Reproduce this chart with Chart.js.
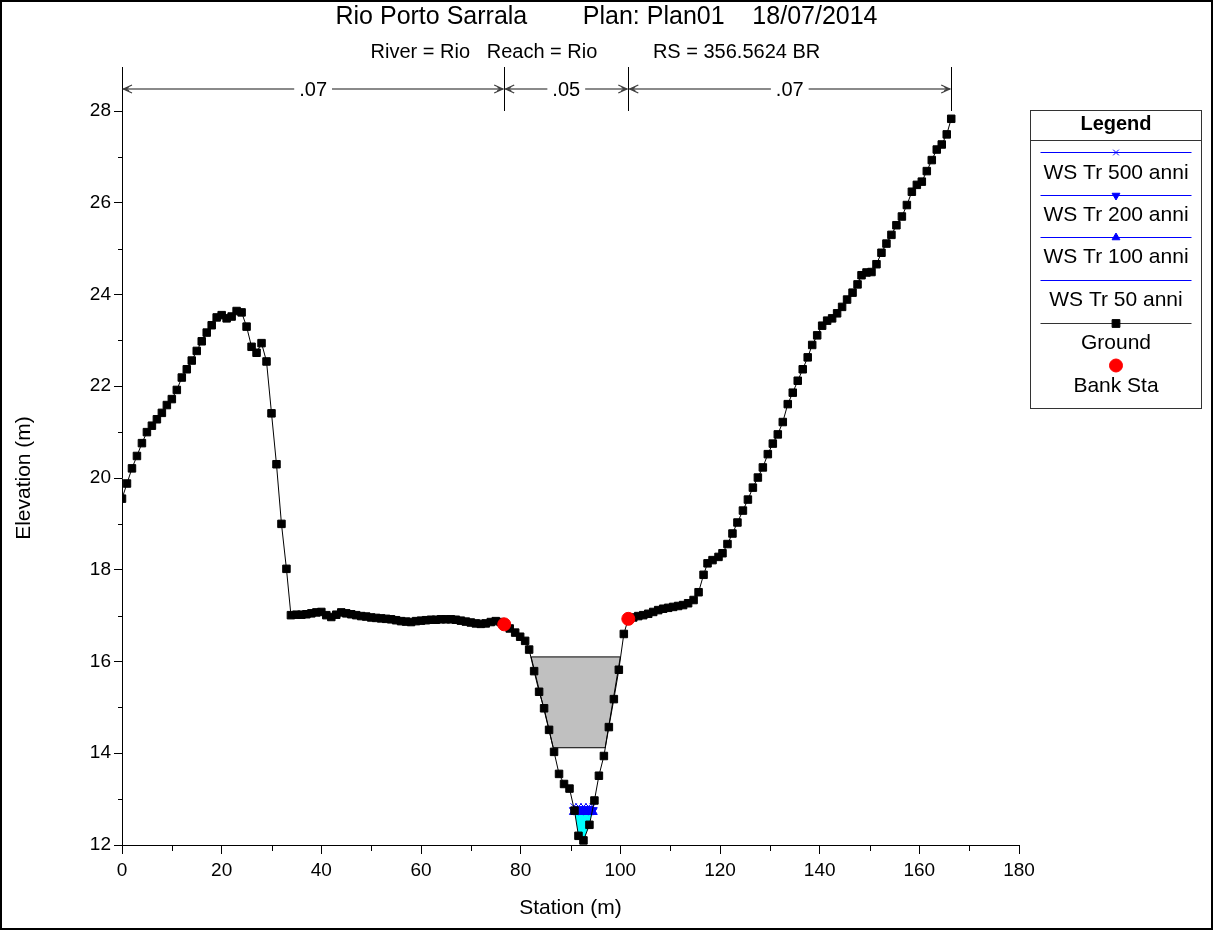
<!DOCTYPE html>
<html>
<head>
<meta charset="utf-8">
<title>Rio Porto Sarrala</title>
<script src="https://cdn.jsdelivr.net/npm/chart.js@4.4.1/dist/chart.umd.min.js"></script>
<style>
  body { margin: 0; background: #fff; }
  canvas { display: block; }
</style>
</head>
<body>
<canvas id="xsChart" width="1213" height="930"></canvas>
<script>
// ground profile (station m / elevation m)
const stations = [
  0, 1, 2, 3, 4, 5, 6, 7, 8, 9, 10, 11, 12, 13, 14, 15, 16, 17, 18, 19,
  20, 21, 22, 23, 24, 25, 26, 27, 28, 29, 30, 31, 32, 33, 33.9,
  35, 36, 37, 38, 39, 40, 41, 42, 43, 44, 45, 46, 47, 48, 49, 50, 51, 52, 53, 54, 55,
  56, 57, 58, 59, 60, 61, 62, 63, 64, 65, 66, 67, 68, 69, 70, 71, 72, 73, 74, 75, 76, 76.7,
  77.8, 78.9, 79.9, 80.9, 81.7, 82.7, 83.7, 84.7, 85.7, 86.7, 87.7, 88.7, 89.8, 90.8, 91.6,
  92.6, 93.8, 94.8, 95.7, 96.7, 97.7, 98.7, 99.7, 100.7, 101.6,
  102.6, 103.6, 104.6, 105.6, 106.6, 107.6, 108.6, 109.6, 110.6, 111.6, 112.6, 113.6, 114.7,
  115.7, 116.7, 117.5, 118.5, 119.7, 120.5, 121.5, 122.5, 123.5, 124.6, 125.6, 126.6, 127.6,
  128.6, 129.6, 130.6, 131.6, 132.6, 133.6, 134.6, 135.6, 136.6, 137.6, 138.5, 139.5, 140.5,
  141.5, 142.5, 143.5, 144.5, 145.5, 146.6, 147.6, 148.4, 149.4, 150.4, 151.4, 152.4, 153.4,
  154.4, 155.4, 156.5, 157.5, 158.5, 159.5, 160.5, 161.5, 162.5, 163.5, 164.5, 165.5, 166.4
];
const elevations = [
  19.55, 19.88, 20.21, 20.48, 20.76, 21.00, 21.14, 21.28, 21.42, 21.59, 21.72, 21.92, 22.19, 22.37,
  22.56, 22.77, 22.98, 23.17, 23.33, 23.50, 23.55, 23.48, 23.52, 23.64, 23.61, 23.30, 22.86, 22.73,
  22.94, 22.54, 21.41, 20.30, 19.00, 18.02, 17.01,
  17.02, 17.02, 17.03, 17.05, 17.07, 17.08, 17.01, 16.97, 17.02, 17.07, 17.05, 17.03, 17.01, 16.99,
  16.98, 16.96, 16.95, 16.94, 16.93, 16.92, 16.90, 16.88, 16.87, 16.86, 16.88, 16.89, 16.90, 16.91,
  16.91, 16.92, 16.92, 16.92, 16.91, 16.89, 16.87, 16.85, 16.83, 16.82, 16.83, 16.86, 16.88, 16.86, 16.81,
  16.72, 16.63, 16.54, 16.45, 16.26, 15.79, 15.34, 14.98, 14.51, 14.03, 13.55, 13.33, 13.23, 12.75, 12.20,
  12.10, 12.44, 12.97, 13.51, 13.94, 14.57, 15.18, 15.82, 16.60, 16.93,
  16.96, 16.99, 17.01, 17.04, 17.08, 17.12, 17.15, 17.17, 17.19, 17.21, 17.23, 17.27, 17.34,
  17.51, 17.89, 18.14, 18.21, 18.28, 18.36, 18.56, 18.79, 19.03, 19.29, 19.53, 19.79, 20.01,
  20.23, 20.52, 20.75, 20.95, 21.22, 21.61, 21.86, 22.12, 22.37, 22.63, 22.90, 23.11, 23.32,
  23.43, 23.48, 23.59, 23.73, 23.89, 24.04, 24.22, 24.42, 24.48, 24.49, 24.66, 24.91, 25.11,
  25.30, 25.51, 25.70, 25.95, 26.24, 26.39, 26.46, 26.69, 26.93, 27.16, 27.27, 27.49, 27.83
];

const bankX = [76.7, 101.6];
const bankY = [16.81, 16.93];

// bridge deck (high chord / low chord)
const deckX = [82.1, 100.0, 96.95, 86.55, 82.1];
const deckY = [16.10, 16.10, 14.12, 14.12, 16.10];

// water surfaces
const wsX = [90.65, 91.6, 92.6, 93.6, 94.5];
const ws500 = 12.84;
const ws200 = 12.76;
const ws100 = 12.72;
const ws50 = 12.68;
const waterX = [90.9, 91.6, 92.6, 93.8, 94.25, 90.9];
const waterY = [12.68, 12.20, 12.10, 12.44, 12.68, 12.68];

// Manning's n along the top
const nBreaks = [0, 76.7, 101.6, 166.4];
const nLabels = ['.07', '.05', '.07'];

const xTicks = [0, 20, 40, 60, 80, 100, 120, 140, 160, 180];
const yTicks = [12, 14, 16, 18, 20, 22, 24, 26, 28];

const FONT = '"Liberation Sans", Arial, sans-serif';
const pts = (xs, ys) => xs.map((x, i) => ({ x: x, y: ys[i] }));
const flat = (xs, v) => xs.map(x => ({ x: x, y: v }));

const legendItems = [
  { label: 'WS Tr 500 anni', line: '#0000ff', style: 'crossRot', r: 4, rot: 0 },
  { label: 'WS Tr 200 anni', line: '#0000ff', style: 'triangle', r: 4.5, rot: 180 },
  { label: 'WS Tr 100 anni', line: '#0000ff', style: 'triangle', r: 4.5, rot: 0 },
  { label: 'WS Tr 50 anni', line: '#0000ff', style: null, r: 0, rot: 0 },
  { label: 'Ground', line: '#333333', style: 'rect', r: 5.5, rot: 0, fill: '#000' },
  { label: 'Bank Sta', line: null, style: 'circle', r: 6.5, rot: 0, fill: '#ff0000' }
];

const frame = {
  id: 'frame',
  afterDraw(chart) {
    const { ctx, chartArea, scales: { x, y } } = chart;
    ctx.save();

    // minor ticks
    ctx.strokeStyle = '#000';
    ctx.lineWidth = 1;
    ctx.beginPath();
    for (let v = 10; v < 180; v += 20) {
      const px = Math.round(x.getPixelForValue(v)) + 0.5;
      ctx.moveTo(px, chartArea.bottom);
      ctx.lineTo(px, chartArea.bottom + 6);
    }
    for (let v = 13; v < 28; v += 2) {
      const py = Math.round(y.getPixelForValue(v)) + 0.5;
      ctx.moveTo(chartArea.left, py);
      ctx.lineTo(chartArea.left - 4, py);
    }
    ctx.stroke();

    // n values
    const ny = 89;
    ctx.font = '20px ' + FONT;
    ctx.textAlign = 'center';
    ctx.textBaseline = 'middle';
    ctx.beginPath();
    nBreaks.forEach(v => {
      const px = Math.round(x.getPixelForValue(v)) + 0.5;
      ctx.moveTo(px, 67);
      ctx.lineTo(px, chartArea.top);
    });
    ctx.stroke();
    for (let i = 0; i < nLabels.length; i++) {
      const a = x.getPixelForValue(nBreaks[i]);
      const b = x.getPixelForValue(nBreaks[i + 1]);
      const mid = (a + b) / 2;
      const half = ctx.measureText(nLabels[i]).width / 2 + 5;
      ctx.strokeStyle = '#8a8a8a';
      ctx.lineWidth = 2;
      ctx.beginPath();
      ctx.moveTo(a + 1, ny); ctx.lineTo(mid - half, ny);
      ctx.moveTo(mid + half, ny); ctx.lineTo(b - 1, ny);
      ctx.stroke();
      ctx.strokeStyle = '#404040';
      ctx.lineWidth = 1.3;
      ctx.beginPath();
      ctx.moveTo(a + 10, ny - 4); ctx.lineTo(a + 1.5, ny); ctx.lineTo(a + 10, ny + 4);
      ctx.moveTo(a + 7, ny - 2); ctx.lineTo(a + 4, ny); ctx.lineTo(a + 7, ny + 2);
      ctx.moveTo(b - 10, ny - 4); ctx.lineTo(b - 1.5, ny); ctx.lineTo(b - 10, ny + 4);
      ctx.moveTo(b - 7, ny - 2); ctx.lineTo(b - 4, ny); ctx.lineTo(b - 7, ny + 2);
      ctx.stroke();
      ctx.fillStyle = '#000';
      ctx.fillText(nLabels[i], mid, ny + 1);
    }

    // legend box
    const lx = 1030.5, ly = 110.5, lw = 171, lh = 298;
    const cx = lx + lw / 2;
    ctx.fillStyle = '#fff';
    ctx.fillRect(lx, ly, lw, lh);
    ctx.strokeStyle = '#333';
    ctx.lineWidth = 1;
    ctx.strokeRect(lx, ly, lw, lh);
    ctx.beginPath();
    ctx.moveTo(lx, 140.5); ctx.lineTo(lx + lw, 140.5);
    ctx.stroke();
    ctx.fillStyle = '#000';
    ctx.font = 'bold 20px ' + FONT;
    ctx.fillText('Legend', cx, 124);
    ctx.font = '21px ' + FONT;
    const lineYs = [152.5, 195.5, 237.5, 280.5, 323.5, 365.5];
    const textYs = [173, 215, 257, 300, 343, 386];
    legendItems.forEach((it, i) => {
      if (it.line) {
        ctx.strokeStyle = it.line;
        ctx.lineWidth = 1;
        ctx.beginPath();
        ctx.moveTo(lx + 10, lineYs[i]); ctx.lineTo(lx + lw - 10, lineYs[i]);
        ctx.stroke();
      }
      if (it.style) {
        ctx.fillStyle = it.fill || '#0000ff';
        ctx.strokeStyle = it.fill || '#0000ff';
        ctx.lineWidth = 1;
        Chart.helpers.drawPoint(ctx, { pointStyle: it.style, radius: it.r, borderWidth: 1, rotation: it.rot }, cx, lineYs[i]);
      }
      ctx.fillStyle = '#000';
      ctx.fillText(it.label, cx, textYs[i]);
    });

    // outer frame
    ctx.strokeStyle = '#000';
    ctx.lineWidth = 2;
    ctx.strokeRect(1, 1, chart.width - 2, chart.height - 2);
    ctx.restore();
  }
};

new Chart(document.getElementById('xsChart'), {
  type: 'scatter',
  data: {
    datasets: [
      {
        label: 'Deck',
        data: pts(deckX, deckY),
        showLine: true,
        fill: 'shape',
        backgroundColor: '#c0c0c0',
        borderColor: '#000',
        borderWidth: 1,
        pointRadius: 0,
        order: 10
      },
      {
        label: 'Water',
        data: pts(waterX, waterY),
        showLine: true,
        fill: 'shape',
        backgroundColor: '#00ffff',
        borderColor: 'rgba(0,0,0,0)',
        borderWidth: 0,
        pointRadius: 0,
        order: 9
      },
      {
        label: 'WS Tr 50 anni',
        data: flat(wsX, ws50),
        showLine: true,
        borderColor: '#0000ff',
        borderWidth: 1,
        pointRadius: 0,
        order: 8
      },
      {
        label: 'WS Tr 100 anni',
        data: flat(wsX, ws100),
        showLine: true,
        borderColor: '#0000ff',
        backgroundColor: '#0000ff',
        borderWidth: 1,
        pointStyle: 'triangle',
        pointRadius: 5,
        order: 7
      },
      {
        label: 'WS Tr 200 anni',
        data: flat(wsX, ws200),
        showLine: true,
        borderColor: '#0000ff',
        backgroundColor: '#0000ff',
        borderWidth: 1,
        pointStyle: 'triangle',
        pointRotation: 180,
        pointRadius: 5,
        order: 6
      },
      {
        label: 'WS Tr 500 anni',
        data: flat(wsX, ws500),
        showLine: true,
        borderColor: '#0000ff',
        backgroundColor: '#0000ff',
        borderWidth: 1,
        pointStyle: 'crossRot',
        pointRadius: 4.5,
        order: 5
      },
      {
        label: 'Ground',
        data: pts(stations, elevations),
        showLine: true,
        borderColor: '#000',
        backgroundColor: '#000',
        borderWidth: 1,
        pointStyle: 'rect',
        pointRadius: 5.3,
        pointBorderWidth: 1,
        order: 2
      },
      {
        label: 'Bank Sta',
        data: pts(bankX, bankY),
        showLine: false,
        backgroundColor: '#ff0000',
        borderColor: '#ff0000',
        pointRadius: 6.5,
        order: 1
      }
    ]
  },
  options: {
    responsive: false,
    devicePixelRatio: 1,
    animation: false,
    events: [],
    layout: { padding: 0 },
    plugins: {
      legend: { display: false },
      tooltip: { enabled: false },
      title: {
        display: true,
        text: 'Rio Porto Sarrala        Plan: Plan01    18/07/2014',
        color: '#000',
        font: { family: FONT, size: 25, weight: 'normal', lineHeight: 1.2 },
        padding: { top: 2, bottom: 3 }
      },
      subtitle: {
        display: true,
        text: 'River = Rio   Reach = Rio          RS = 356.5624 BR    ',
        color: '#000',
        font: { family: FONT, size: 20, weight: 'normal', lineHeight: 1.2 },
        padding: { top: 5, bottom: 47 }
      }
    },
    scales: {
      x: {
        type: 'linear',
        min: 0,
        max: 180,
        afterBuildTicks: s => { s.ticks = xTicks.map(v => ({ value: v })); },
        afterFit: s => { s.height = 85; },
        ticks: { color: '#000', font: { family: FONT, size: 19 }, padding: 5, maxRotation: 0 },
        grid: { drawOnChartArea: false, color: '#000', tickLength: 9 },
        border: { color: '#000', width: 1 },
        title: {
          display: true,
          text: 'Station (m)',
          color: '#000',
          font: { family: FONT, size: 21 },
          padding: { top: 0, bottom: 9 }
        }
      },
      y: {
        type: 'linear',
        min: 12,
        max: 28,
        afterBuildTicks: s => { s.ticks = yTicks.map(v => ({ value: v })); },
        afterFit: s => { s.width = 122; },
        ticks: { color: '#000', font: { family: FONT, size: 19 }, padding: 3 },
        grid: { drawOnChartArea: false, color: '#000', tickLength: 8 },
        border: { color: '#000', width: 1 },
        title: {
          display: true,
          text: 'Elevation (m)',
          color: '#000',
          font: { family: FONT, size: 21 },
          padding: { top: 12, bottom: 0 }
        }
      },
      side: {
        type: 'linear',
        position: 'right',
        min: 12,
        max: 28,
        afterFit: s => { s.width = 194; },
        ticks: { display: false },
        grid: { display: false },
        border: { display: false }
      }
    }
  },
  plugins: [frame]
});
</script>
</body>
</html>
